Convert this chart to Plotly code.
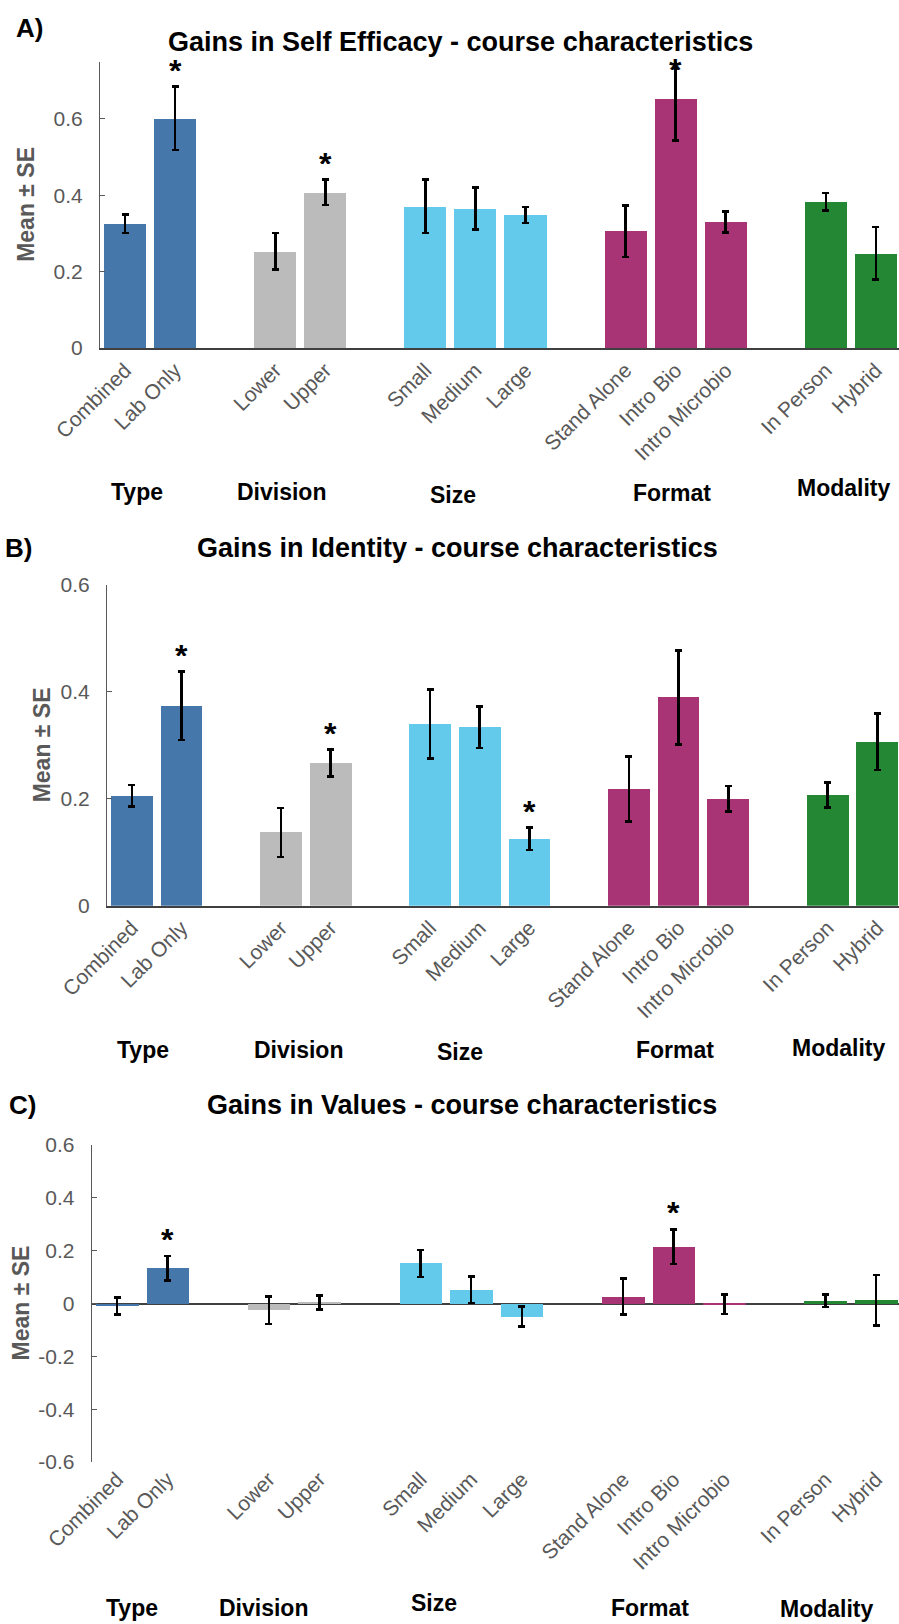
import plotly.graph_objects as go

# ---- data -----------------------------------------------------------------
categories = ["Combined", "Lab Only", "Lower", "Upper", "Small", "Medium", "Large",
              "Stand Alone", "Intro Bio", "Intro Microbio", "In Person", "Hybrid"]
groups = ["Type", "Division", "Size", "Format", "Modality"]
group_sizes = [2, 2, 3, 3, 2]
group_colors = ["#4677AA", "#BBBBBB", "#64CAEC", "#A83375", "#238734"]

self_efficacy_mean = [0.325, 0.602, 0.253, 0.408, 0.371, 0.366, 0.348, 0.306, 0.653, 0.330, 0.383, 0.248]
self_efficacy_se = [0.024, 0.083, 0.048, 0.033, 0.070, 0.055, 0.021, 0.068, 0.110, 0.027, 0.023, 0.069]
self_efficacy_sig = ["Lab Only", "Upper", "Intro Bio"]

identity_mean = [0.206, 0.374, 0.137, 0.267, 0.340, 0.334, 0.125, 0.218, 0.390, 0.200, 0.207, 0.307]
identity_se = [0.020, 0.064, 0.046, 0.025, 0.065, 0.039, 0.021, 0.061, 0.088, 0.024, 0.023, 0.053]
identity_sig = ["Lab Only", "Upper", "Large"]

values_mean = [-0.009, 0.133, -0.025, 0.004, 0.152, 0.052, -0.050, 0.026, 0.215, -0.003, 0.010, 0.012]
values_se = [0.032, 0.047, 0.052, 0.027, 0.051, 0.050, 0.038, 0.068, 0.066, 0.037, 0.023, 0.096]
values_sig = ["Lab Only", "Intro Bio"]

# ---- page geometry (pixels) -----------------------------------------------
W, H = 899, 1624
FONT = "Liberation Sans, Arial, sans-serif"
GREY_TXT = "#595959"

panels = [
    dict(letter="A)", title="Gains in Self Efficacy - course characteristics",
         mean=self_efficacy_mean, se=self_efficacy_se, sig=self_efficacy_sig,
         left=100, top=61.7, bottom=348, yr=[0, 0.75], step=50.06,
         ticks=[0, 0.2, 0.4, 0.6], letter_xy=(29, 28), title_xy=(460, 42),
         ytitle_x=26,
         group_xy=[(137, 492), (281, 492), (453, 495), (672, 493), (843, 488)]),
    dict(letter="B)", title="Gains in Identity - course characteristics",
         mean=identity_mean, se=identity_se, sig=identity_sig,
         left=107, top=585, bottom=905.7, yr=[0, 0.6], step=49.7,
         ticks=[0, 0.2, 0.4, 0.6], letter_xy=(18, 548), title_xy=(457, 548),
         ytitle_x=42,
         group_xy=[(143, 1050), (298, 1050), (460, 1052), (675, 1050), (838, 1048)]),
    dict(letter="C)", title="Gains in Values - course characteristics",
         mean=values_mean, se=values_se, sig=values_sig,
         left=91.7, top=1145, bottom=1462, yr=[-0.6, 0.6], step=50.6,
         ticks=[-0.6, -0.4, -0.2, 0, 0.2, 0.4, 0.6], letter_xy=(22, 1105),
         title_xy=(462, 1105), ytitle_x=20,
         group_xy=[(132, 1608), (263, 1608), (434, 1603), (650, 1608), (826, 1609)]),
]

# slot positions: bars of a group side by side, one empty slot between groups
slots, colors = [], []
pos = 0
for size, col in zip(group_sizes, group_colors):
    for _ in range(size):
        slots.append(pos)
        colors.append(col)
        pos += 1
    pos += 1


def fmt(v):
    return "0" if abs(v) < 1e-9 else f"{v:g}"


def label(px, py, text, size, color="black", angle=0):
    return dict(x=px / W, y=1 - py / H, xref="paper", yref="paper",
                xanchor="center", yanchor="middle", text=text,
                textangle=angle, showarrow=False,
                font=dict(family=FONT, size=size, color=color))


fig = go.Figure()
annotations = []
layout = {}

for i, p in enumerate(panels):
    n = "" if i == 0 else str(i + 1)
    xa, ya = "x" + n, "y" + n
    fig.add_trace(go.Bar(
        x=slots, y=p["mean"], xaxis=xa, yaxis=ya,
        marker=dict(color=colors, line=dict(width=0)),
        width=0.84,
        error_y=dict(type="data", array=p["se"], color="black",
                     thickness=2.6, width=3.5),
        hoverinfo="skip", showlegend=False,
    ))

    x_hi = -0.5 + (W - p["left"]) / p["step"]
    is_c = p["yr"][0] < 0
    layout["xaxis" + n] = dict(
        domain=[p["left"] / W, 1], range=[-0.5, x_hi], anchor=ya,
        tickmode="array", tickvals=slots, ticktext=categories,
        tickangle=-45, ticks="", showgrid=False, zeroline=False,
        showline=not is_c, linecolor="#404040", linewidth=1.5,
        tickfont=dict(family=FONT, size=21, color=GREY_TXT),
        automargin=False, fixedrange=True,
    )
    layout["yaxis" + n] = dict(
        domain=[1 - p["bottom"] / H, 1 - p["top"] / H], range=p["yr"],
        anchor=xa, tickmode="array", tickvals=p["ticks"],
        ticktext=[fmt(t) for t in p["ticks"]],
        ticks="inside", ticklen=5, tickcolor="#595959", tickwidth=1,
        showline=True, linecolor="#595959", linewidth=1,
        showgrid=False, zeroline=is_c, zerolinecolor="#404040", zerolinewidth=1.5,
        ticklabelstandoff=12,
        tickfont=dict(family=FONT, size=21, color=GREY_TXT),
        automargin=False, fixedrange=True,
    )

    # significance stars above the error bars (compact box around the glyph)
    ppu = (p["bottom"] - p["top"]) / (p["yr"][1] - p["yr"][0])
    for cat in p["sig"]:
        k = categories.index(cat)
        top = p["mean"][k] + p["se"][k] + 24 / ppu
        top = min(top, p["yr"][1])
        annotations.append(dict(
            x=slots[k], y=top, xref=xa, yref=ya, text="<b>*</b>",
            showarrow=False, xanchor="center", yanchor="middle",
            height=18, valign="top", yshift=1,
            font=dict(family=FONT, size=32, color="black"),
        ))

    # panel letter, title, y title, group labels
    lx, ly = p["letter_xy"]
    annotations.append(label(lx, ly, "<b>" + p["letter"] + "</b>", 26))
    tx, ty = p["title_xy"]
    annotations.append(label(tx, ty, "<b>" + p["title"] + "</b>", 27))
    annotations.append(label(p["ytitle_x"], (p["top"] + p["bottom"]) / 2,
                             "<b>Mean ± SE</b>", 23, GREY_TXT, -90))
    for g, (gx, gy) in zip(groups, p["group_xy"]):
        annotations.append(label(gx, gy, "<b>" + g + "</b>", 23))

fig.update_layout(
    width=W, height=H,
    margin=dict(l=0, r=0, t=0, b=0, pad=0, autoexpand=False),
    paper_bgcolor="white", plot_bgcolor="white",
    bargap=0, annotations=annotations, showlegend=False,
    font=dict(family=FONT),
    **layout,
)

fig.write_html("out.html")
